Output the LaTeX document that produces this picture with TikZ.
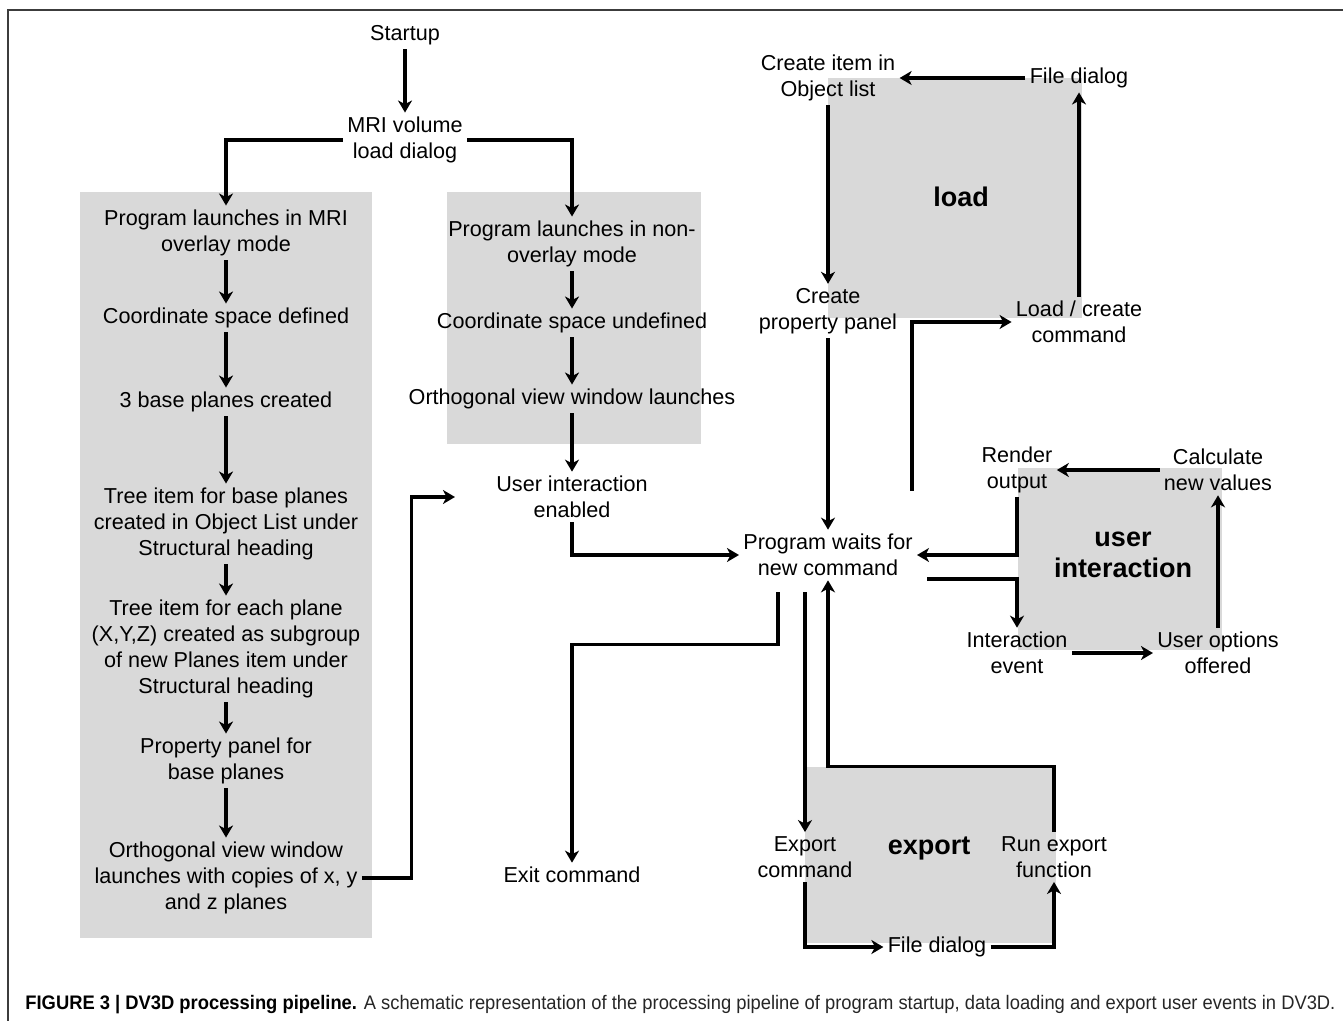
\documentclass[tikz,border=0pt]{standalone}
\usepackage{fontspec}
\setmainfont{Liberation Sans}
\usepackage{graphicx}
\usepackage{tikz}
\usetikzlibrary{calc,fit,arrows.meta}
\definecolor{boxgray}{RGB}{217,217,217}
\definecolor{framegray}{RGB}{60,60,60}
\newcommand{\stepfont}{\fontsize{10.8}{13}\selectfont}
\newcommand{\headfont}{\fontsize{13.5}{15.5}\selectfont\bfseries}

\begin{document}
\begin{tikzpicture}[x=0.5pt,y=-0.5pt]
    \tikzstyle{step node}=[align=center,inner sep=2pt,yshift=-1pt,font=\stepfont]
    \tikzstyle{head node}=[align=center,inner sep=0,font=\headfont]
    \tikzstyle{gray box}=[fill=boxgray,inner sep=0]
    \tikzstyle{flow}=[line width=1.6pt,-{Stealth[length=6pt,width=7pt,inset=1.8pt]}]
    \useasboundingbox (0,0) rectangle (1343,1021);
% frame
\draw[framegray,line width=1pt] (8,1021) -- (8,10) -- (1343,10);
% shaded stages
\node(lbox)[gray box,fit={(80,192) (372,938)}]{};
\node(mbox)[gray box,fit={(447,192) (701,444)}]{};
\node(cbox)[gray box,fit={(828,78) (1082,318)}]{};
\node(dbox)[gray box,fit={(1018,468) (1222,650)}]{};
\node(ebox)[gray box,fit={(805,767) (1056,943)}]{};
% startup
\node(s0)[step node] at (405,33) {Startup};
\node(s1)[step node] at (405,138) {MRI volume\\load dialog};
% overlay mode
\node(a1)[step node] at (226,231) {Program launches in MRI\\overlay mode};
\node(a2)[step node] at (226,316) {Coordinate space defined};
\node(a3)[step node] at (226,400) {3 base planes created};
\node(a4)[step node] at (226,522) {Tree item for base planes\\created in Object List under\\Structural heading};
\node(a5)[step node] at (226,647) {Tree item for each plane\\(X,Y,Z) created as subgroup\\of new Planes item under\\Structural heading};
\node(a6)[step node] at (226,759) {Property panel for\\base planes};
\node(a7)[step node] at (226,876) {Orthogonal view window\\launches with copies of x, y\\and z planes};
% non-overlay mode
\node(b1)[step node] at (572,242) {Program launches in non-\\overlay mode};
\node(b2)[step node] at (572,321) {Coordinate space undefined};
\node(b3)[step node] at (572,397) {Orthogonal view window launches};
\node(b4)[step node] at (572,495) {User interaction\\enabled};
\node(w)[step node] at (828,553) {Program waits for\\new command};
\node(x)[step node] at (572,873) {Exit command};
% load
\node(c1)[step node] at (828,76) {Create item in\\Object list};
\node(c2)[step node] at (828,309) {Create\\property panel};
\node(c3)[step node] at (1079,320) {Load / create\\command};
\node(c4)[step node] at (1079,76) {File dialog};
\node(cl)[head node] at (961,197) {load};
% user interaction
\node(d1)[step node] at (1017,468) {Render\\output};
\node(d2)[step node] at (1218,468) {Calculate\\new values};
\node(d3)[step node] at (1017,651) {Interaction\\event};
\node(d4)[step node] at (1218,651) {User options\\offered};
\node(dl)[head node] at (1123,555) {user\\interaction};
% export
\node(e1)[step node] at (805,855) {Export\\command};
\node(e2)[step node] at (937,945) {File dialog};
\node(e3)[step node] at (1054,855) {Run export\\function};
\node(el)[head node] at (929,848) {export};
% caption
\node(cap)[anchor=west,inner sep=0] at (25,1005) {\resizebox{655pt}{\height}{\fontsize{9.8}{11}\selectfont\textbf{FIGURE 3 | DV3D processing pipeline.} {\color{black!85}A schematic representation of the processing pipeline of program startup, data loading and export user events in DV3D.}}};
% connectors
\draw[flow] (s0) -- (s1);
\draw[flow] (s1.west) -| (a1.north);
\draw[flow] (s1.east) -| (b1.north);
\draw[flow] (a1) -- (a2);
\draw[flow] (a2) -- (a3);
\draw[flow] (a3) -- (a4);
\draw[flow] (a4) -- (a5);
\draw[flow] (a5) -- (a6);
\draw[flow] (a6) -- (a7);
\draw[flow] (a7.east) -- ++(50,0) |- ([shift={(-37,0)}]b4.west);
\draw[flow] (b1) -- (b2);
\draw[flow] (b2) -- (b3);
\draw[flow] (b3) -- (b4);
\draw[flow] (b4.south) |- (w.west);
% load loop
\draw[flow] ([shift={(-5,-39)}]w.north east) |- (c3.west);
\draw[flow] (c3) -- (c4);
\draw[flow] (c4) -- (c1);
\draw[flow] (c1) -- (c2);
\draw[flow] (c2) -- (w);
% user interaction loop
\draw[flow] ([shift={(10,24)}]w.east) -| (d3.north);
\draw[flow] (d3) -- (d4);
\draw[flow] (d4) -- (d2);
\draw[flow] (d2) -- (d1);
\draw[flow] (d1.south) |- (w.east);
% exit and export
\draw[flow] ([shift={(-50,12)}]w.south) -- ++(0,52) -| (x.north);
\draw[flow] ($(w.south -| e1.north)+(0,12)$) -- (e1.north);
\draw[flow] (e1.south) |- (e2.west);
\draw[flow] (e2.east) -| (e3.south);
\draw[flow] (e3.north) -- (e3.north |- ebox.north) -| (w.south);
\end{tikzpicture}
\end{document}
